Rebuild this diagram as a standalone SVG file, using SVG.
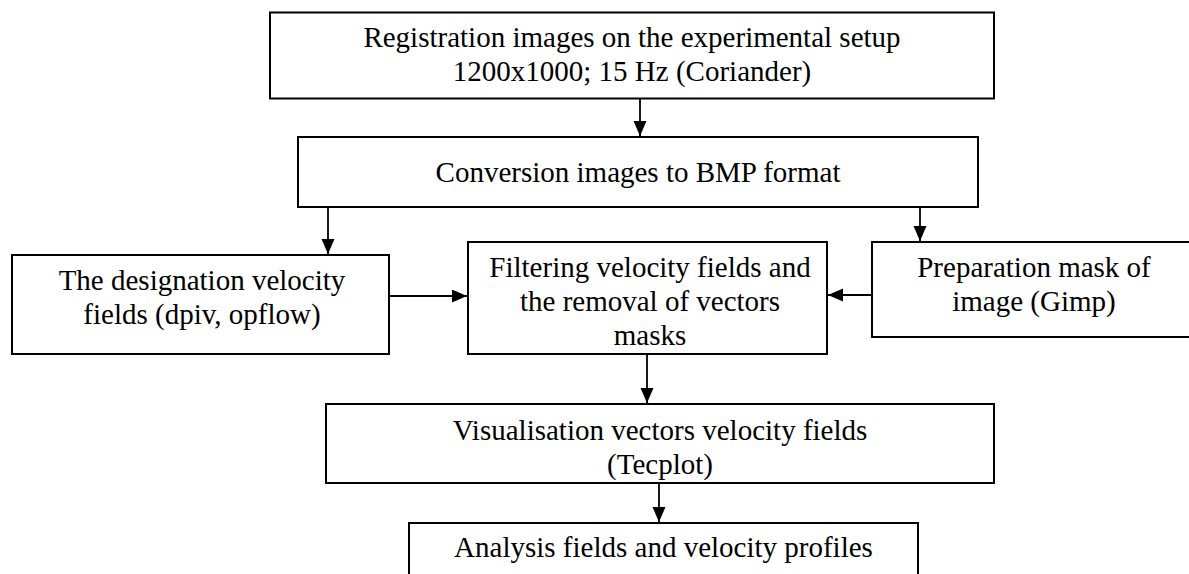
<svg xmlns="http://www.w3.org/2000/svg" width="1189" height="574" viewBox="0 0 1189 574">
<style>
.box{fill:#fff;stroke:#000;stroke-width:2}
.t{font-family:"Liberation Serif","Times New Roman",serif;font-size:29px;fill:#000;text-anchor:middle}
.c{stroke:#000;stroke-width:1.8;fill:none;marker-end:url(#ah)}
</style>
<defs>
<marker id="ah" markerUnits="userSpaceOnUse" markerWidth="16" markerHeight="14" refX="15" refY="6.5" orient="auto">
<path d="M0,0 L15,6.5 L0,13 Z" fill="#000"/>
</marker>
</defs>
<rect width="1189" height="574" fill="#fff"/>
<g id="connectors">
<line class="c" x1="640" y1="99" x2="640" y2="136"/>
<line class="c" x1="328" y1="207" x2="328" y2="254"/>
<line class="c" x1="920" y1="207" x2="920" y2="241"/>
<line class="c" x1="389" y1="296" x2="467" y2="296"/>
<line class="c" x1="872" y1="295" x2="828" y2="295"/>
<line class="c" x1="647" y1="354" x2="647" y2="403"/>
<line class="c" x1="659" y1="483" x2="659" y2="522"/>
</g>
<g id="n1">
<rect class="box" x="270" y="12.5" width="724" height="86"/>
<text class="t" x="632" y="47">Registration images on the experimental setup</text>
<text class="t" x="632" y="81">1200x1000; 15 Hz (Coriander)</text>
</g>
<g id="n2">
<rect class="box" x="298" y="137" width="680" height="70"/>
<text class="t" x="638" y="182">Conversion images to BMP format</text>
</g>
<g id="n3">
<rect class="box" x="12" y="255" width="377" height="99"/>
<text class="t" x="202" y="290">The designation velocity</text>
<text class="t" x="202" y="324">fields (dpiv, opflow)</text>
</g>
<g id="n4">
<rect class="box" x="468" y="242" width="359" height="112"/>
<text class="t" x="650" y="277">Filtering velocity fields and</text>
<text class="t" x="650" y="311">the removal of vectors</text>
<text class="t" x="650" y="345">masks</text>
</g>
<g id="n5">
<rect class="box" x="872" y="242" width="330" height="95"/>
<text class="t" x="1034" y="277">Preparation mask of</text>
<text class="t" x="1034" y="311">image (Gimp)</text>
</g>
<g id="n6">
<rect class="box" x="326" y="404" width="668" height="79"/>
<text class="t" x="660" y="440">Visualisation vectors velocity fields</text>
<text class="t" x="660" y="474">(Tecplot)</text>
</g>
<g id="n7">
<rect class="box" x="409" y="523" width="509" height="70"/>
<text class="t" x="663.5" y="557">Analysis fields and velocity profiles</text>
</g>
</svg>
